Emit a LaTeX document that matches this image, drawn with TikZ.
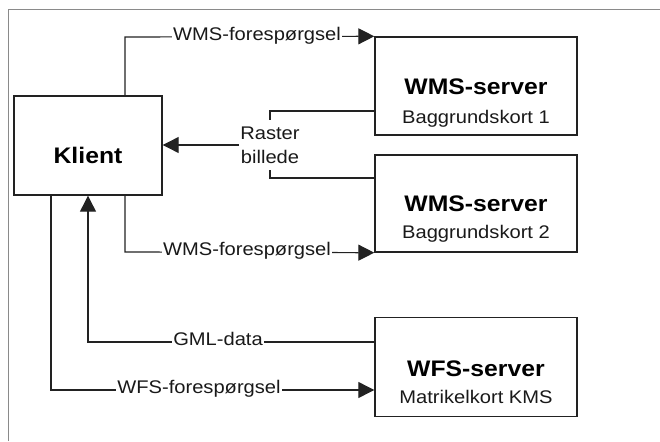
\documentclass[tikz,border=0pt]{standalone}
\usepackage{fontspec}
\setmainfont[FakeStretch=1.1]{Liberation Sans}
\usetikzlibrary{arrows.meta}
\definecolor{ink}{HTML}{222222}
\definecolor{frame}{HTML}{8A8A8A}
\begin{document}
\begin{tikzpicture}[x=1pt,y=-1pt,
  srv/.style={draw=ink, line width=1.4pt, inner sep=0pt, minimum width=202pt},
  conn/.style={draw=ink, line width=1.2pt},
  arr/.style={conn, -{Triangle[length=16pt,width=16pt]}},
  ttl/.style={font=\fontsize{22.5}{26}\selectfont\bfseries, anchor=base, inner sep=0pt, text=black},
  sub/.style={font=\fontsize{18.3}{22}\selectfont, anchor=base, inner sep=0pt, text=black!90},
  lbl/.style={font=\fontsize{18.3}{22}\selectfont, anchor=base, fill=white, inner xsep=1.5pt, inner ysep=1pt, text=black!90}]
\useasboundingbox (0,0) rectangle (660,441);
% frame (top and left edges)
\draw[frame, line width=1pt] (8,441) -- (8,10) -- (660,10);
% boxes
\node[srv, minimum width=148pt, minimum height=99pt] (klient) at (88,145.5) {};
\node[srv, minimum height=98pt] (wms1) at (476,86) {};
\node[srv, minimum height=97pt] (wms2) at (476,203.5) {};
\node[srv, minimum height=99pt] (wfs) at (476,367) {};
% box texts
\node[ttl] (tk) at (88,163) {Klient};
\node[ttl] (t1) at (476,95) {WMS-server};
\node[sub] (s1) at (476,123.5) {Baggrundskort 1};
\node[ttl] (t2) at (476,211) {WMS-server};
\node[sub] (s2) at (476,238.5) {Baggrundskort 2};
\node[ttl] (t3) at (476,376) {WFS-server};
\node[sub] (s3) at (476,403.5) {Matrikelkort KMS};
% connector corners
\coordinate (c1) at (125,37);
\coordinate (c2) at (125,252);
\coordinate (c3) at (88,342);
\coordinate (c4) at (51,390);
\coordinate (r1) at (270,111);
\coordinate (r2) at (270,178);
% raster label
\node[font=\fontsize{18.3}{24}\selectfont, align=center, inner xsep=1pt, inner ysep=6.5pt, text=black!90] (raster) at (270,145) {Raster\\billede};
% connectors
\draw[arr] (klient.north -| c1) -- (c1) -- (wms1.north west);
\draw[arr] (klient.south -| c2) -- (c2) -- (wms2.south west);
\draw[arr] (wfs.west |- c3) -- (c3) -- (klient.south -| c3);
\draw[arr] (klient.south -| c4) -- (c4) -- (wfs.west |- c4);
\draw[conn] (wms1.west |- r1) -- (r1) -- (raster.north);
\draw[conn] (wms2.west |- r2) -- (r2) -- (raster.south);
\draw[arr] (raster.west) -- (raster.west -| klient.east);
% connector labels
\node[lbl] (l1) at (257,40.5) {WMS-forespørgsel};
\node[lbl] (l2) at (247,255.5) {WMS-forespørgsel};
\node[lbl] (l3) at (218,345.5) {GML-data};
\node[lbl] (l4) at (199,393.5) {WFS-forespørgsel};
\end{tikzpicture}
\end{document}
